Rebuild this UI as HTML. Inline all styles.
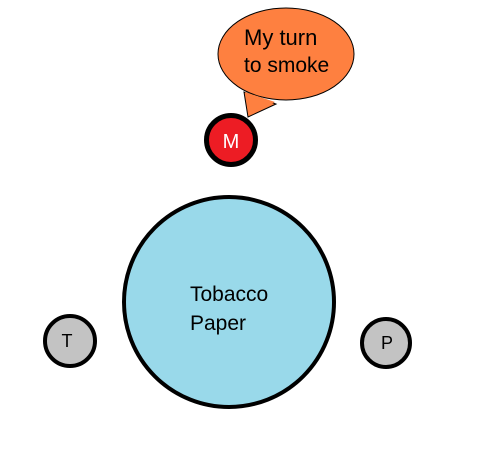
<!DOCTYPE html>
<html><head><style>body{margin:0;background:#fff}</style></head><body>
<svg width="483" height="457" xmlns="http://www.w3.org/2000/svg" font-family="Liberation Sans, sans-serif">
<path d="M244,92 L248,117 L276,104 Z" fill="#fe8040" stroke="#000" stroke-width="1"/>
<ellipse cx="286" cy="54" rx="68" ry="46" fill="#fe8040" stroke="#000" stroke-width="1"/>
<path d="M245,92 L249,114 L275,102 Z" fill="#fe8040" stroke="none"/>
<text x="244" y="45" font-size="22" fill="#000">My turn</text>
<text x="244" y="72" font-size="21" fill="#000">to smoke</text>
<circle cx="231" cy="140" r="24.5" fill="#ed1c24" stroke="#000" stroke-width="5"/>
<text x="231" y="148" font-size="20" fill="#fff" text-anchor="middle">M</text>
<circle cx="229" cy="302" r="105" fill="#99d9ea" stroke="#000" stroke-width="4"/>
<text x="190" y="301" font-size="21" fill="#000">Tobacco</text>
<text x="190" y="330" font-size="21" fill="#000">Paper</text>
<circle cx="70" cy="341" r="25" fill="#c3c3c3" stroke="#000" stroke-width="4"/>
<text x="67" y="347" font-size="18" fill="#000" text-anchor="middle">T</text>
<circle cx="386" cy="343" r="24" fill="#c3c3c3" stroke="#000" stroke-width="4"/>
<text x="387" y="349" font-size="18" fill="#000" text-anchor="middle">P</text>
</svg>
</body></html>
